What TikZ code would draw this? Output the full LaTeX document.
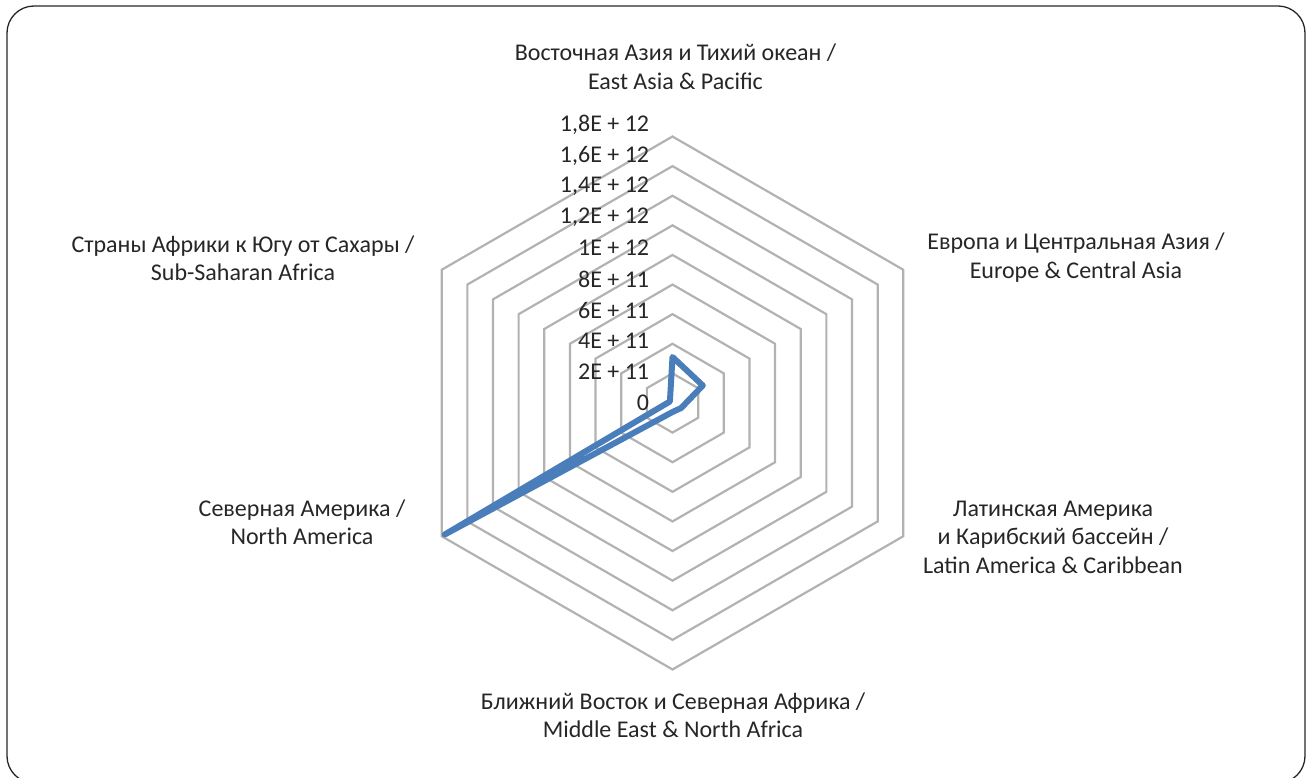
\documentclass[tikz,border=0pt]{standalone}
\usepackage{fontspec}
\setmainfont{Carlito}
\usetikzlibrary{calc}
\definecolor{gridc}{HTML}{B2B2B2}
\definecolor{serc}{HTML}{4A7EBB}
\definecolor{txtc}{HTML}{262626}
\begin{document}
\begin{tikzpicture}[x=1pt,y=-1pt,
  lab/.style={text=txtc,font=\fontsize{24}{28.5}\selectfont,align=center,inner sep=0pt},
  tick/.style={text=txtc,font=\fontsize{24}{28.5}\selectfont,anchor=east,inner sep=0pt},
  ring/.style={draw=gridc,line width=2.2},
  series/.style={draw=serc,line width=6,line join=round,line cap=round}]
\useasboundingbox (0,0) rectangle (1307,778);
\begin{scope}
  \clip (0,0) rectangle (1307,778);
  \draw[line width=1.3,draw=black!85,rounded corners=27] (7,6) rectangle (1305,783);
\end{scope}
\coordinate (C) at (672.5,403);
\foreach \k in {1,...,9}{
  \draw[ring] ($(C)+(-90:\k*29.61)$) -- ($(C)+(-30:\k*29.61)$) -- ($(C)+(30:\k*29.61)$)
    -- ($(C)+(90:\k*29.61)$) -- ($(C)+(150:\k*29.61)$) -- ($(C)+(210:\k*29.61)$) -- cycle;
}
\foreach \k/\t in {0/0,1/2E + 11,2/4E + 11,3/6E + 11,4/8E + 11,5/1E + 12,6/{1,2E + 12},7/{1,4E + 12},8/{1,6E + 12},9/{1,8E + 12}}{
  \node[tick] (t\k) at (649.3,{402.7-30.9*\k}) {\t};
}
\coordinate (pEA) at ($(C)+(-90:46)$);
\coordinate (pEU) at ($(C)+(-30:35)$);
\coordinate (pLA) at ($(C)+(30:10)$);
\coordinate (pME) at ($(C)+(90:9)$);
\coordinate (pNA) at ($(C)+(150:263)$);
\coordinate (pSS) at ($(C)+(210:3)$);
\draw[series] (pEA) -- (pEU) -- (pLA) -- (pME) -- (pNA) -- (pSS) -- cycle;
\node[lab] (ea) at (675.5,67) {Восточная Азия и Тихий океан /\\East Asia \& Pacific};
\node[lab] (eu) at (1076,257.5) {Европа и Центральная Азия /\\Europe \& Central Asia};
\node[lab] (la) at (1053,537) {Латинская Америка\\и Карибский бассейн /\\Latin America \& Caribbean};
\node[lab] (me) at (673,715.5) {Ближний Восток и Северная Африка /\\Middle East \& North Africa};
\node[lab] (na) at (302,522.5) {Северная Америка /\\North America};
\node[lab] (ss) at (243,258.5) {Страны Африки к Югу от Сахары /\\Sub-Saharan Africa};
\end{tikzpicture}
\end{document}
